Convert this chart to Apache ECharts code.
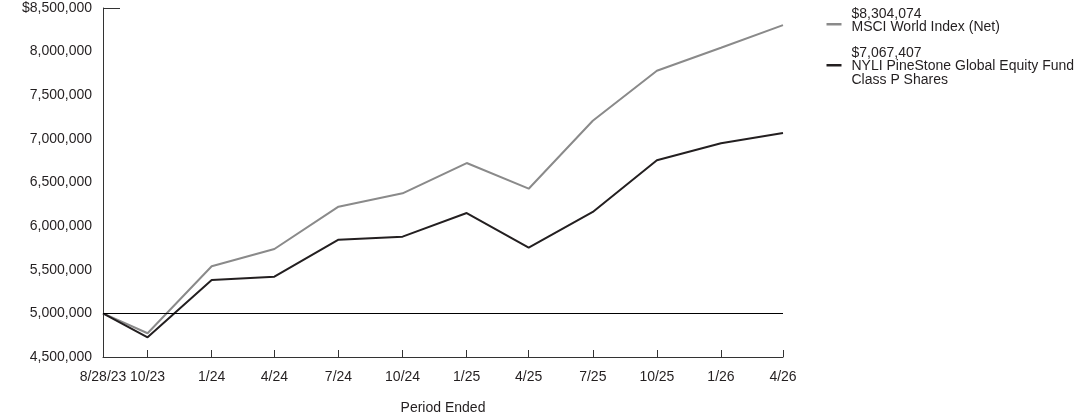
<!DOCTYPE html>
<html>
<head>
<meta charset="utf-8">
<script src="https://cdn.jsdelivr.net/npm/echarts@6/dist/echarts.min.js"></script>
<style>
  html, body { margin: 0; padding: 0; background: #fff; }
  #chart { width: 1092px; height: 417px; }
</style>
</head>
<body>
<div id="chart"></div>
<script>
// period ends and their tick labels
const dates = ['2023-08-28', '2023-10-31', '2024-01-31', '2024-04-30', '2024-07-31', '2024-10-31',
  '2025-01-31', '2025-04-30', '2025-07-31', '2025-10-31', '2026-01-31', '2026-04-30'];
const tickLabels = ['8/28/23', '10/23', '1/24', '4/24', '7/24', '10/24', '1/25', '4/25', '7/25', '10/25', '1/26', '4/26'];

// growth of $5,000,000
const msciValues = [5000000, 4772000, 5540000, 5738000, 6223000, 6376000, 6723000, 6429000, 7208000, 7781000, 8045000, 8304074];
const fundValues = [5000000, 4726000, 5383000, 5420000, 5845000, 5879000, 6150000, 5753000, 6162000, 6754000, 6949000, 7067407];

const seriesNames = ['MSCI World Index (Net)', 'NYLI PineStone Global Equity Fund\nClass P Shares'];
const seriesColors = ['#8a8a8a', '#231f20'];

const yMin = 4500000, yMax = 8500000, yStep = 500000;
const baseline = 5000000;

const textColor = '#231f20';
const fontFamily = '"Liberation Sans", Arial, sans-serif';

// x as days since the first period end
const toUTC = s => { const p = s.split('-').map(Number); return Date.UTC(p[0], p[1] - 1, p[2]); };
const t0 = toUTC(dates[0]);
const xDays = dates.map(d => Math.round((toUTC(d) - t0) / 86400000));
const labelByDay = {};
xDays.forEach((x, i) => { labelByDay[x] = tickLabels[i]; });

const fmt = v => v.toLocaleString('en-US');

const chart = echarts.init(document.getElementById('chart'));

// legend built by hand: line + last value + name
const legendTop = [7, 46];
const legendLineY = [17, 19];
const legendItems = [msciValues, fundValues].map((vals, i) => ({
  type: 'group',
  left: 824,
  top: legendTop[i],
  children: [
    {
      type: 'line',
      shape: { x1: 0, y1: legendLineY[i], x2: 15, y2: legendLineY[i] },
      style: { stroke: seriesColors[i], lineWidth: 2.5 }
    },
    {
      type: 'text',
      x: 25,
      y: 0,
      style: {
        text: '$' + fmt(vals[vals.length - 1]) + '\n' + seriesNames[i],
        fill: textColor,
        font: '14px ' + fontFamily,
        lineHeight: 13.5
      }
    }
  ]
}));

const option = {
  animation: false,
  textStyle: { fontFamily: fontFamily },
  grid: { left: 103, right: 309, top: 8, bottom: 60, containLabel: false, outerBoundsMode: 'none' },
  xAxis: {
    type: 'value',
    min: xDays[0],
    max: xDays[xDays.length - 1],
    name: 'Period Ended',
    nameLocation: 'middle',
    nameGap: 44,
    nameTextStyle: { color: textColor, fontSize: 14 },
    axisLine: { show: true, onZero: false, lineStyle: { color: '#333', width: 1 } },
    axisTick: { show: true, inside: true, length: 7, customValues: xDays, lineStyle: { color: '#333' } },
    axisLabel: {
      customValues: xDays,
      color: textColor,
      fontSize: 14,
      margin: 13,
      hideOverlap: false,
      showMinLabel: true,
      showMaxLabel: true,
      formatter: v => labelByDay[v] || ''
    },
    splitLine: { show: false }
  },
  yAxis: {
    type: 'value',
    min: yMin,
    max: yMax,
    interval: yStep,
    axisLine: { show: true, lineStyle: { color: '#333', width: 1 } },
    axisTick: { show: true, inside: true, length: 17, customValues: [yMax], lineStyle: { color: '#333' } },
    axisLabel: {
      color: textColor,
      fontSize: 14,
      margin: 11,
      formatter: v => (v === yMax ? '$' : '') + fmt(v)
    },
    splitLine: { show: false }
  },
  series: [
    {
      name: seriesNames[0],
      type: 'line',
      data: xDays.map((x, i) => [x, msciValues[i]]),
      symbol: 'none',
      lineStyle: { color: seriesColors[0], width: 2 },
      z: 2
    },
    {
      name: seriesNames[1],
      type: 'line',
      data: xDays.map((x, i) => [x, fundValues[i]]),
      symbol: 'none',
      lineStyle: { color: seriesColors[1], width: 2 },
      z: 3,
      markLine: {
        silent: true,
        symbol: 'none',
        label: { show: false },
        lineStyle: { color: '#000', width: 1, type: 'solid' },
        data: [{ yAxis: baseline }]
      }
    }
  ],
  graphic: legendItems
};

chart.setOption(option);
</script>
</body>
</html>
